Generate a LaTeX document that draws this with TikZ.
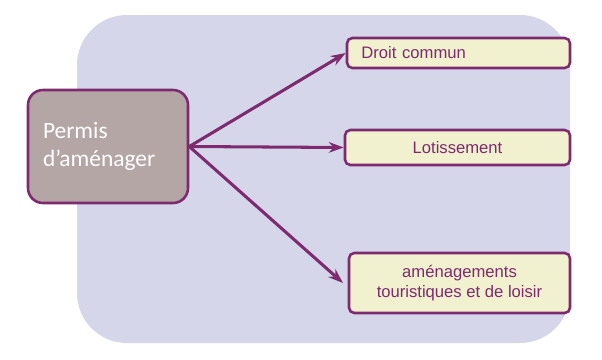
\documentclass[tikz,border=0pt]{standalone}
\usepackage{fontspec}
\setmainfont{Liberation Sans}
\newfontfamily\calfont{Carlito}
\usetikzlibrary{arrows.meta,positioning}
\definecolor{panelblue}{RGB}{213,214,234}
\definecolor{plum}{RGB}{125,42,110}
\definecolor{mauve}{RGB}{181,166,166}
\definecolor{softcream}{RGB}{241,241,208}
\tikzset{
  rootbox/.style={
    draw=plum,
    rounded corners=4.5mm,
    line width=2.2pt,
    fill=mauve,
    text=white,
    align=left,
    inner sep=5pt,
    font=\calfont\fontsize{20}{23.5}\selectfont
  },
  leafbox/.style={
    draw=plum,
    rounded corners=1.6mm,
    line width=2.2pt,
    fill=softcream,
    text=plum,
    align=center,
    inner sep=2pt,
    font=\fontsize{14.2}{17}\selectfont
  },
  flow/.style={-{Stealth[length=4.5mm,width=3.2mm,inset=1.5mm]}, line width=2.6pt, draw=plum}
}
\begin{document}
\begin{tikzpicture}[x=0.3mm, y=-0.3mm]
    \useasboundingbox (0,0) rectangle (602,359);
    % background panel
    \fill[panelblue, rounded corners=15mm] (77,15) rectangle (570,343);
    \node[rootbox, minimum width=160*0.3mm, minimum height=113*0.3mm, text width=130*0.3mm] (permis) at (108,146.5) {Permis\\d’aménager};
    \node[leafbox, minimum width=223*0.3mm, minimum height=30*0.3mm, text width=200*0.3mm, align=left] (droit) at (458.5,53) {\hspace*{2.5pt}Droit commun};
    \node[leafbox, minimum width=225*0.3mm, minimum height=35*0.3mm] (lotis) at (457.5,147.5) {Lotissement};
    \node[leafbox, minimum width=221*0.3mm, minimum height=60*0.3mm] (amenag) at (459.5,283) {aménagements\\touristiques et de loisir};
    \draw[flow] (permis.east) -- (droit.west);
    \draw[flow] (permis.east) -- (lotis.west);
    \draw[flow] (permis.east) -- ([xshift=-4pt]amenag.west);
  \end{tikzpicture}
\end{document}
